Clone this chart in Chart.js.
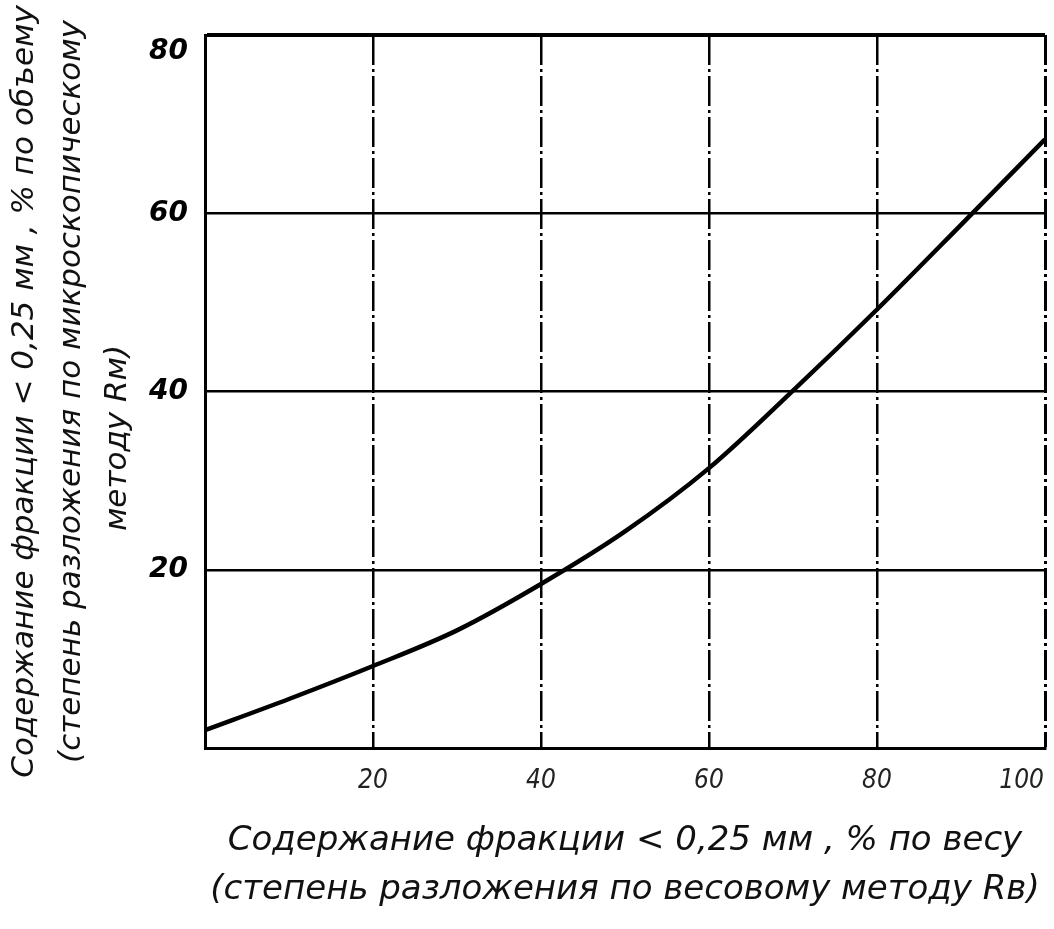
<!DOCTYPE html>
<html>
<head>
<meta charset="utf-8">
<script src="https://cdn.jsdelivr.net/npm/chart.js@4/dist/chart.umd.min.js"></script>
<style>
html,body{margin:0;padding:0;background:#fff;}
#wrap{width:1054px;height:929px;position:relative;}
</style>
</head>
<body>
<div id="wrap"><canvas id="c" width="1054" height="929"></canvas></div>
<script>
// Data
const xWeight = [0, 10, 20, 30, 40, 50, 60, 70, 80, 90, 100];
const yVolume = [2, 5.5, 9.2, 13.2, 18.4, 24.3, 31.4, 40.1, 49.2, 58.7, 68.3];
const xTicks = [20, 40, 60, 80, 100];
const yTicks = [20, 40, 60, 80];
const xTitle = ['Содержание фракции < 0,25 мм , % по весу', '(степень разложения по весовому методу Rв)'];
const yTitle = ['Содержание фракции < 0,25 мм , % по объему', '(степень разложения по микроскопическому', 'методу Rм)\u2003\u2003\u2003'];

const points = xWeight.map((x, i) => ({x: x, y: yVolume[i]}));
const titleFont = "'DejaVu Sans', sans-serif";

new Chart(document.getElementById('c'), {
  type: 'line',
  data: {
    datasets: [{
      data: points,
      borderColor: '#000',
      borderWidth: 4.5,
      pointRadius: 0,
      cubicInterpolationMode: 'monotone',
      fill: false
    }]
  },
  options: {
    responsive: false,
    animation: false,
    devicePixelRatio: 1,
    layout: {padding: {top: 35, right: 9, left: 0, bottom: 0}},
    plugins: {legend: {display: false}, tooltip: {enabled: false}},
    scales: {
      x: {
        type: 'linear', min: 0, max: 100,
        afterBuildTicks: s => { s.ticks = [0].concat(xTicks).map(v => ({value: v})); },
        afterFit: s => { s.height = 181; s.paddingLeft = 0; s.paddingRight = 0; },
        ticks: {
          color: '#222', padding: 18, maxRotation: 0, autoSkip: false,
          font: {family: "'DejaVu Sans Condensed', sans-serif", size: 26, style: 'italic'},
          callback: v => v === 0 ? '' : (v === 100 ? '100\u2003\u2003' : String(v))
        },
        grid: {color: '#000', lineWidth: c => (c.tick && c.tick.value === 100) ? 3 : 2.5, drawTicks: false},
        border: {display: true, color: '#000', width: 3, dash: [30, 4, 3, 4]},
        title: {
          display: true, text: xTitle, color: '#111',
          font: {family: titleFont, size: 34, style: 'italic', lineHeight: 1.45},
          padding: {top: 0, bottom: 14}
        }
      },
      y: {
        type: 'linear', min: 0, max: 80,
        afterBuildTicks: s => { s.ticks = [0].concat(yTicks).map(v => ({value: v})); },
        afterFit: s => { s.width = 205; s.paddingTop = 0; s.paddingBottom = 0; },
        ticks: {
          color: '#000', padding: 17,
          font: {family: "'DejaVu Sans', sans-serif", size: 28, style: 'italic', weight: 'bold'},
          callback: v => v === 0 ? '' : (v === 80 ? ['', '80'] : String(v))
        },
        grid: {color: '#000', lineWidth: c => (c.tick && c.tick.value === 80) ? 4 : 2.5, drawTicks: false},
        border: {display: true, color: '#000', width: 3},
        title: {
          display: true, text: yTitle, color: '#111',
          font: {family: titleFont, size: 31, style: 'italic', lineHeight: 1.5},
          padding: {top: 2, bottom: 0}
        }
      }
    }
  }
});
</script>
</body>
</html>
